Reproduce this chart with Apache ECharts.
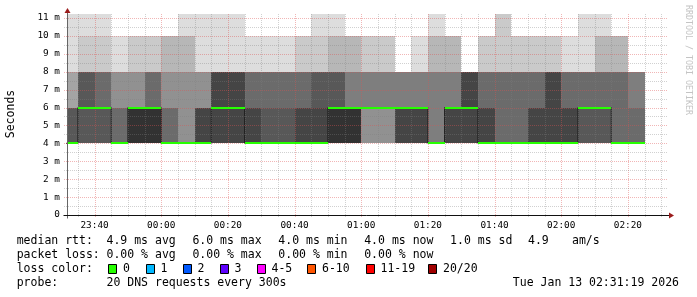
<!DOCTYPE html>
<html><head><meta charset="utf-8">
<script src="https://cdn.jsdelivr.net/npm/echarts@6/dist/echarts.min.js"></script>
<style>html,body{margin:0;padding:0;background:#fff}#c{width:697px;height:297px}</style>
</head><body><div id="c"></div>
<script>
// ---------------- data ----------------
// 5-minute bins (start time of each bin)
const binStart = ['23:30','23:35','23:40','23:45','23:50','23:55','00:00','00:05','00:10','00:15',
  '00:20','00:25','00:30','00:35','00:40','00:45','00:50','00:55','01:00','01:05',
  '01:10','01:15','01:20','01:25','01:30','01:35','01:40','01:45','01:50','01:55',
  '02:00','02:05','02:10','02:15','02:20'];
const binMinutes = 5;
// RTT levels of the 20 DNS pings (ms); the top one lies above the plot and is clipped
const rttLevels = [4, 6, 8, 10, 12];
// number of pings (of 20) at each level, per bin
const n4  = [12,8,8,13,10,10,13,15,11,9,9,11,12,12,11,11,10,10,5,5,9,9,14,9,9,11,13,13,11,11,11,8,8,13,13];
const n6  = [4,4,5,2,5,3,2,0,4,2,2,2,1,1,2,1,2,4,9,9,5,5,0,5,2,2,0,0,2,0,2,5,5,0,1];
const n8  = [3,6,5,4,3,5,2,2,4,8,8,6,6,6,5,6,5,3,4,4,6,5,3,3,9,5,5,5,5,7,6,6,4,4,6];
const n10 = [0,1,1,1,2,2,3,2,0,0,0,1,1,1,2,1,2,3,2,2,0,1,2,3,0,2,0,2,2,2,1,0,2,3,0];
const n12 = [1,1,1,0,0,0,0,1,1,1,1,0,0,0,0,1,1,0,0,0,0,0,1,0,0,0,2,0,0,0,0,1,1,0,0];
// median RTT per bin (ms)
const medianRtt = [4,6,6,4,6,6,4,4,4,6,6,4,4,4,4,4,6,6,6,6,6,6,4,6,6,4,4,4,4,4,4,6,6,4,4];
// axes
const xTickLabels = ['23:40','00:00','00:20','00:40','01:00','01:20','01:40','02:00','02:20'];
const yTickValues = [0,1,2,3,4,5,6,7,8,9,10,11];
const yTickLabels = ['0','1 m','2 m','3 m','4 m','5 m','6 m','7 m','8 m','9 m','10 m','11 m'];
const viewStart = '23:31:44', viewEnd = '02:31:44';
const yMax = 11.22;
// texts
const yTitle = 'Seconds';
const watermark = 'RRDTOOL / TOBI OETIKER';
const rttTitle = 'median rtt:';
const rttStats = ['4.9 ms avg','6.0 ms max','4.0 ms min','4.0 ms now','1.0 ms sd'];
const rttExtra = ['4.9','am/s'];
const lossTitle = 'packet loss:';
const lossStats = ['0.00 % avg','0.00 % max','0.00 % min','0.00 % now'];
const colorTitle = 'loss color:';
const lossColorLabels = ['0','1','2','3','4-5','6-10','11-19','20/20'];
const lossColors = ['#26ff00','#00b8ff','#0059ff','#5e00ff','#ff00ff','#ff5500','#ff0000','#a00000'];
const probeTitle = 'probe:';
const probeText = '20 DNS requests every 300s';
const stamp = 'Tue Jan 13 02:31:19 2026';

// ---------------- build ----------------
function toMin(s){const p=s.split(':').map(Number);let t=p[0]*60+p[1]+(p[2]||0)/60;if(p[0]<12)t+=1440;return t;}
const xMin = toMin(viewStart), xMax = toMin(viewEnd);
const xTickPos = xTickLabels.map(toMin);
const counts = [n4,n6,n8,n10,n12];

const smokeData = [], medLine = [], medBand = [];
binStart.forEach((b,i)=>{
  const s = toMin(b), e = s + binMinutes;
  const pings = [];
  counts.forEach((arr,li)=>{for(let j=0;j<arr[i];j++)pings.push(rttLevels[li]);});
  const n = pings.length, half = n/2;
  for(let lo=0, hi=n-1, k=1; hi>lo; lo++, hi--, k++){
    if(pings[hi] > pings[lo]){
      const g = Math.floor(190/half*(half-k))+50;
      smokeData.push([s, e, pings[lo], pings[hi], g]);
    }
  }
  medLine.push([s, medianRtt[i]], [e, medianRtt[i]]);
  medBand.push([s, e, medianRtt[i]]);
});

const gridData = [];
for(let t=Math.ceil(xMin/5)*5; t<=xMax; t+=5) gridData.push([0, t, (t%20===0)?1:0]);
for(let v=0.5; v<=yMax; v+=0.5) gridData.push([1, v, (v%1===0)?1:0]);

const chart = echarts.init(document.getElementById('c'), null, {renderer:'canvas', width:697, height:297});
const FONT = 'DejaVu Sans Mono';
const option = {
  animation:false,
  backgroundColor:'#ffffff',
  grid:{left:67, top:14, width:600, height:201},
  xAxis:{type:'value', min:xMin, max:xMax,
    axisLine:{show:false}, axisTick:{show:false}, splitLine:{show:false},
    axisLabel:{customValues:xTickPos, margin:6, color:'#000', fontFamily:FONT, fontSize:9.4,
      formatter:(v)=>{const i=xTickPos.findIndex(p=>Math.abs(p-v)<1e-6);return i>=0?xTickLabels[i]:'';}}},
  yAxis:{type:'value', min:0, max:yMax,
    axisLine:{show:false}, axisTick:{show:false}, splitLine:{show:false},
    axisLabel:{customValues:yTickValues, margin:7, color:'#000', fontFamily:FONT, fontSize:9.4,
      formatter:(v)=>{const i=yTickValues.findIndex(p=>Math.abs(p-v)<1e-6);return i>=0?yTickLabels[i]:'';}}},
  series:[
    {type:'custom', z:2, data:smokeData, silent:true,
      renderItem:(params, api)=>{
        const a=api.coord([api.value(0), api.value(3)]), b=api.coord([api.value(1), api.value(2)]);
        const cs=params.coordSys;
        const x=Math.round(a[0]), y=Math.round(a[1]);
        const r={x:x, y:y, width:Math.round(b[0])-x, height:Math.round(b[1])-y};
        const c=echarts.graphic.clipRectByRect(r,{x:cs.x,y:cs.y,width:cs.width,height:cs.height});
        if(!c) return;
        const g=api.value(4);
        return {type:'rect', shape:c, style:{fill:'rgb('+g+','+g+','+g+')'}};
      }},
    {type:'line', z:3, data:medLine, symbol:'none', silent:true,
      lineStyle:{color:'#202020', width:1}},
    {type:'custom', z:5, data:gridData, silent:true,
      renderItem:(params, api)=>{
        const cs=params.coordSys, dir=api.value(0), v=api.value(1), major=api.value(2);
        const col = major ? 'rgba(222,80,80,0.42)' : 'rgba(128,128,128,0.36)';
        let shape;
        if(dir===0){const x=Math.round(api.coord([v,0])[0])+0.5; shape={x1:x,y1:cs.y,x2:x,y2:cs.y+cs.height+3};}
        else {const y=Math.round(api.coord([xMin,v])[1])+0.5; shape={x1:cs.x-3,y1:y,x2:cs.x+cs.width,y2:y};}
        return {type:'line', shape:shape, style:{stroke:col, lineWidth:1, lineDash:[1,1]}};
      }},
    {type:'custom', z:6, data:medBand, silent:true,
      renderItem:(params, api)=>{
        const a=api.coord([api.value(0), api.value(2)]), b=api.coord([api.value(1), api.value(2)]);
        const cs=params.coordSys;
        const x=Math.round(a[0]), y=Math.round(a[1])-1;
        const r={x:x, y:y, width:Math.round(b[0])-x, height:2};
        const c=echarts.graphic.clipRectByRect(r,{x:cs.x,y:cs.y-2,width:cs.width,height:cs.height+4});
        if(!c) return;
        return {type:'rect', shape:c, style:{fill:lossColors[0]}};
      }}
  ]
};
chart.setOption(option);

// axes, arrows and texts
const o = chart.convertToPixel({gridIndex:0},[xMin,0]);
const e = chart.convertToPixel({gridIndex:0},[xMax,yMax]);
const ox = Math.round(o[0])+0.5, oy = Math.round(o[1])+0.5, ex = Math.round(e[0]), ty = Math.round(e[1]);
const AR = '#9b1c1c';
const g = [];
g.push({type:'line', shape:{x1:ox,y1:oy+3,x2:ox,y2:ty-3}, style:{stroke:'#666',lineWidth:1}, z:10});
g.push({type:'line', shape:{x1:ox-4,y1:oy,x2:ex+3,y2:oy}, style:{stroke:'#111',lineWidth:1}, z:10});
g.push({type:'polygon', shape:{points:[[ox-3,ty-1],[ox+3,ty-1],[ox,ty-6]]}, style:{fill:AR}, z:11});
g.push({type:'polygon', shape:{points:[[ex+2,oy-3],[ex+2,oy+3],[ex+7,oy]]}, style:{fill:AR}, z:11});
const T = (x,y,text,opt)=>Object.assign({type:'text', x:x, y:y, z:12,
  style:Object.assign({text:text, fill:'#000', font:'11.5px "'+FONT+'"', align:'left', verticalAlign:'middle'}, opt||{})});
g.push(Object.assign(T(11,114,yTitle,{align:'center'}),{rotation:Math.PI/2}));
g.push(Object.assign(T(688,60,watermark,{align:'center', fill:'#c4c4c4', font:'8.3px "'+FONT+'"'}),{rotation:-Math.PI/2}));
const colL = 16.7, colV = 106.5, fieldStep = 85.9;
const rows = [241, 255, 269, 283];
g.push(T(colL,rows[0],rttTitle));
rttStats.forEach((s,i)=>g.push(T(colV+i*fieldStep,rows[0],s)));
g.push(T(528,rows[0],rttExtra[0])); g.push(T(572,rows[0],rttExtra[1]));
g.push(T(colL,rows[1],lossTitle));
lossStats.forEach((s,i)=>g.push(T(colV+i*fieldStep,rows[1],s)));
g.push(T(colL,rows[2],colorTitle));
const boxX = [108, 145.5, 182.5, 219.5, 256.5, 307, 365.5, 428];
lossColorLabels.forEach((s,i)=>{
  const bx = Math.round(boxX[i])+0.5;
  g.push({type:'rect', shape:{x:bx, y:264.5, width:8, height:9}, style:{fill:lossColors[i], stroke:'#000', lineWidth:1}, z:12});
  g.push(T(boxX[i]+15, rows[2], s));
});
g.push(T(colL,rows[3],probeTitle));
g.push(T(colV,rows[3],probeText));
g.push(T(679,rows[3],stamp,{align:'right'}));
chart.setOption({graphic:g});
</script></body></html>
